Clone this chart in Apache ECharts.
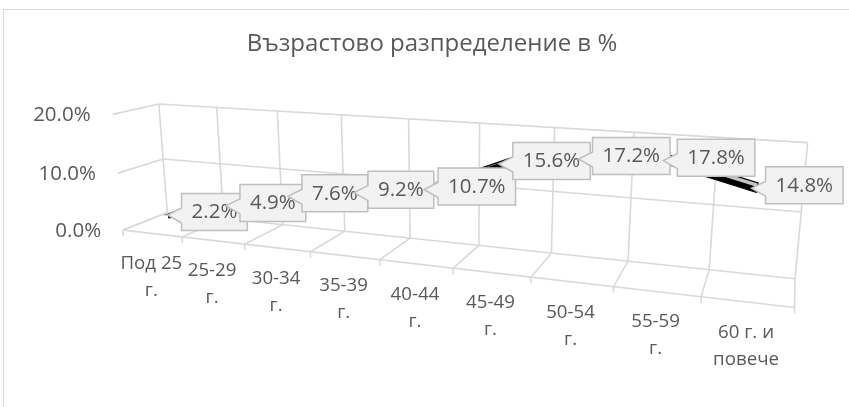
<!DOCTYPE html>
<html>
<head>
<meta charset="utf-8">
<script src="https://cdn.jsdelivr.net/npm/echarts@6/dist/echarts.min.js"></script>
<style>
html, body { margin: 0; padding: 0; background: #ffffff; }
#chart { width: 849px; height: 407px; }
</style>
</head>
<body>
<div id="chart"></div>
<script>
// ---- data ----
const titleText = 'Възрастово разпределение в %';
const categories = ['Под 25\nг.', '25-29\nг.', '30-34\nг.', '35-39\nг.', '40-44\nг.', '45-49\nг.', '50-54\nг.', '55-59\nг.', '60 г. и\nповече'];
const shares = [0.022, 0.049, 0.076, 0.092, 0.107, 0.156, 0.172, 0.178, 0.148];
const valueTicks = [0, 0.1, 0.2];
const valueTickLabels = ['0.0%', '10.0%', '20.0%'];

// ---- styling ----
const FONT = '"Open Sans", "Noto Sans", sans-serif';
const TEXT = '#595959';
const GRID = '#d9d9d9';

// ---- perspective camera ----
// Reference points of the 3D plot box: [x 0..1 along categories, y 0..1 of value range,
// z 0 = back wall .. 1 = front edge, screen x, screen y]. A projective camera is fitted to them.
const boxAnchors = [
  [0/9, 1, 0, 160, 104], [1/9, 1, 0, 217, 107.4], [2/9, 1, 0, 277, 111], [3/9, 1, 0, 341, 114.9],
  [4/9, 1, 0, 409, 119], [5/9, 1, 0, 480, 123.2], [6/9, 1, 0, 554, 127.7], [7/9, 1, 0, 634, 132.5],
  [8/9, 1, 0, 717, 137.5], [9/9, 1, 0, 809, 143],
  [0/9, 0, 0, 166, 214], [3/9, 0, 0, 345, 231], [4/9, 0, 0, 410, 238], [5/9, 0, 0, 478, 243],
  [6/9, 0, 0, 552, 253], [7/9, 0, 0, 628, 262], [8/9, 0, 0, 712, 270], [9/9, 0, 0, 793, 279],
  [0/9, 0, 1, 124, 230], [1/9, 0, 1, 183, 236.9], [2/9, 0, 1, 245, 244.1], [3/9, 0, 1, 311, 251.7],
  [4/9, 0, 1, 380, 259.7], [5/9, 0, 1, 453, 268.2], [6/9, 0, 1, 530, 277.2], [7/9, 0, 1, 613, 286.8],
  [8/9, 0, 1, 701, 297], [9/9, 0, 1, 795, 308],
  [0, 1, 1, 112, 114], [0, 0.5, 1, 117, 173], [0, 0.5, 0, 163, 159], [1, 0.5, 0, 801, 211]
];

// least-squares fit of a 3x4 projective matrix (last entry fixed to 1)
function solveCamera(pts) {
  const S = 350, OX = 450, OY = 200, N = 11;
  const M = [];
  for (let i = 0; i < N; i++) M.push(new Array(N + 1).fill(0));
  pts.forEach(([X, Y, Z, sx, sy]) => {
    const u = (sx - OX) / S, v = (sy - OY) / S;
    const rows = [
      [X, Y, Z, 1, 0, 0, 0, 0, -u * X, -u * Y, -u * Z, u],
      [0, 0, 0, 0, X, Y, Z, 1, -v * X, -v * Y, -v * Z, v]
    ];
    rows.forEach(r => {
      for (let i = 0; i < N; i++) {
        for (let j = 0; j < N; j++) M[i][j] += r[i] * r[j];
        M[i][N] += r[i] * r[N];
      }
    });
  });
  for (let c = 0; c < N; c++) {
    let p = c;
    for (let r = c + 1; r < N; r++) if (Math.abs(M[r][c]) > Math.abs(M[p][c])) p = r;
    const tmp = M[c]; M[c] = M[p]; M[p] = tmp;
    for (let r = 0; r < N; r++) {
      if (r === c) continue;
      const f = M[r][c] / M[c][c];
      for (let k = c; k <= N; k++) M[r][k] -= f * M[c][k];
    }
  }
  const p = M.map((row, i) => row[N] / row[i]);
  return function (X, Y, Z) {
    const w = p[8] * X + p[9] * Y + p[10] * Z + 1;
    return [
      (p[0] * X + p[1] * Y + p[2] * Z + p[3]) / w * S + OX,
      (p[4] * X + p[5] * Y + p[6] * Z + p[7]) / w * S + OY
    ];
  };
}
const project = solveCamera(boxAnchors);

// convert a point of the (hidden) cartesian grid into normalised box coordinates
function toBox(params, pt) {
  const cs = params.coordSys;
  return [(pt[0] - cs.x) / cs.width, (cs.y + cs.height - pt[1]) / cs.height];
}

const measureCtx = document.createElement('canvas').getContext('2d');
function textWidth(str, size) {
  measureCtx.font = size + 'px ' + FONT;
  return measureCtx.measureText(str).width;
}

function line(a, b, color, width) {
  return {
    type: 'line',
    shape: { x1: a[0], y1: a[1], x2: b[0], y2: b[1] },
    style: { stroke: color, lineWidth: width }
  };
}

// walls, floor, ticks and axis labels
function renderFrame(params, api) {
  const children = [];
  const band = api.size([1, 0])[0];
  const n = categories.length;
  const bounds = [];
  for (let k = 0; k < n; k++) bounds.push(toBox(params, [api.coord([k, 0])[0] - band / 2, 0])[0]);
  bounds.push(toBox(params, [api.coord([n - 1, 0])[0] + band / 2, 0])[0]);
  const ys = valueTicks.map(t => toBox(params, api.coord([0, t]))[1]);

  // back wall and side wall horizontal gridlines
  ys.forEach(y => {
    children.push(line(project(0, y, 0), project(1, y, 0), GRID, 1.6));
    children.push(line(project(0, y, 0), project(0, y, 1), GRID, 1.6));
  });
  // back wall verticals, floor lines and tick marks at category boundaries
  bounds.forEach(x => {
    children.push(line(project(x, 0, 0), project(x, 1, 0), GRID, 1.6));
    children.push(line(project(x, 0, 0), project(x, 0, 1), GRID, 1.6));
    const f = project(x, 0, 1);
    children.push(line(f, [f[0], f[1] + 6], GRID, 1.6));
  });
  // front edge of the floor (category axis line)
  children.push(line(project(0, 0, 1), project(1, 0, 1), GRID, 1.6));

  // value axis labels
  ys.forEach((y, i) => {
    const p = project(0, y, 1);
    children.push({
      type: 'text',
      style: { text: valueTickLabels[i], x: p[0] - 22, y: p[1] + 1, align: 'right', verticalAlign: 'middle',
        fill: TEXT, fontSize: 20.5, fontFamily: FONT }
    });
  });
  // category labels
  for (let k = 0; k < n; k++) {
    const p = project((bounds[k] + bounds[k + 1]) / 2, 0, 1);
    children.push({
      type: 'text',
      style: { text: categories[k], x: p[0] - 1, y: p[1] + 17, align: 'center', verticalAlign: 'top',
        fill: TEXT, fontSize: 18.7, fontFamily: FONT, lineHeight: 27 }
    });
  }
  return { type: 'group', children };
}

// ribbon of the 3D line: one segment per pair of neighbouring points
const Z1 = 0.38, Z2 = 0.62, THICK = 0.035;
function renderRibbon(params, api) {
  const i = params.dataIndex;
  if (i >= shares.length - 1) return null;
  const a = toBox(params, api.coord([i, shares[i]]));
  const b = toBox(params, api.coord([i + 1, shares[i + 1]]));
  const top = [project(a[0], a[1], Z1), project(b[0], b[1], Z1), project(b[0], b[1], Z2), project(a[0], a[1], Z2)];
  const front = [project(a[0], a[1], Z2), project(b[0], b[1], Z2), project(b[0], b[1] - THICK, Z2), project(a[0], a[1] - THICK, Z2)];
  return {
    type: 'group',
    children: [
      { type: 'polygon', shape: { points: front }, style: { fill: '#000', stroke: '#000', lineWidth: 1 } },
      { type: 'polygon', shape: { points: top }, style: { fill: '#c4c4c4', stroke: '#000', lineWidth: 1.2 } }
    ]
  };
}

// callout data labels placed to the right of each point
function renderLabel(params, api) {
  const i = params.dataIndex;
  const v = shares[i];
  const b = toBox(params, api.coord([i, v]));
  const a = project(b[0], b[1], 0.5);
  const text = (v * 100).toFixed(1) + '%';
  const w = textWidth(text, 20.5) + 20, h = 37;
  const L = a[0] + 8, cy = a[1];
  const T = cy - h / 2, B = cy + h / 2, R = L + w;
  const tip = [a[0] - 6, a[1] + 3];
  const shape = [[L, T], [R, T], [R, B], [L, B], [L, cy + 11], tip, [L, cy - 4]];
  return {
    type: 'group',
    children: [
      { type: 'polygon', shape: { points: shape }, style: { fill: '#f2f2f2', stroke: '#bfbfbf', lineWidth: 1.5 } },
      { type: 'text', style: { text, x: (L + R) / 2, y: cy + 0.5, align: 'center', verticalAlign: 'middle',
        fill: TEXT, fontSize: 20.5, fontFamily: FONT } }
    ]
  };
}

const chart = echarts.init(document.getElementById('chart'), null, { renderer: 'canvas' });
chart.setOption({
  animation: false,
  backgroundColor: '#ffffff',
  graphic: [
    { type: 'rect', shape: { x: 3.5, y: 9.5, width: 900, height: 500 }, style: { fill: 'none', stroke: GRID, lineWidth: 1 }, z: -10 },
    { type: 'text', style: { text: titleText, x: 432, y: 44, align: 'center', verticalAlign: 'middle',
      fill: TEXT, fontSize: 24, fontFamily: FONT } }
  ],
  grid: { left: 0, top: 0, width: 900, height: 300, show: false },
  xAxis: { type: 'category', data: categories, show: false },
  yAxis: { type: 'value', min: 0, max: 0.2, interval: 0.1, show: false },
  series: [
    { type: 'custom', name: 'frame', clip: false, silent: true, data: [[0, 0]], renderItem: renderFrame, z: 1 },
    { type: 'custom', name: 'ribbon', clip: false, silent: true, data: shares.map((v, i) => [i, v]), renderItem: renderRibbon, z: 2 },
    { type: 'custom', name: 'labels', clip: false, silent: true, data: shares.map((v, i) => [i, v]), renderItem: renderLabel, z: 3 }
  ]
});
</script>
</body>
</html>
